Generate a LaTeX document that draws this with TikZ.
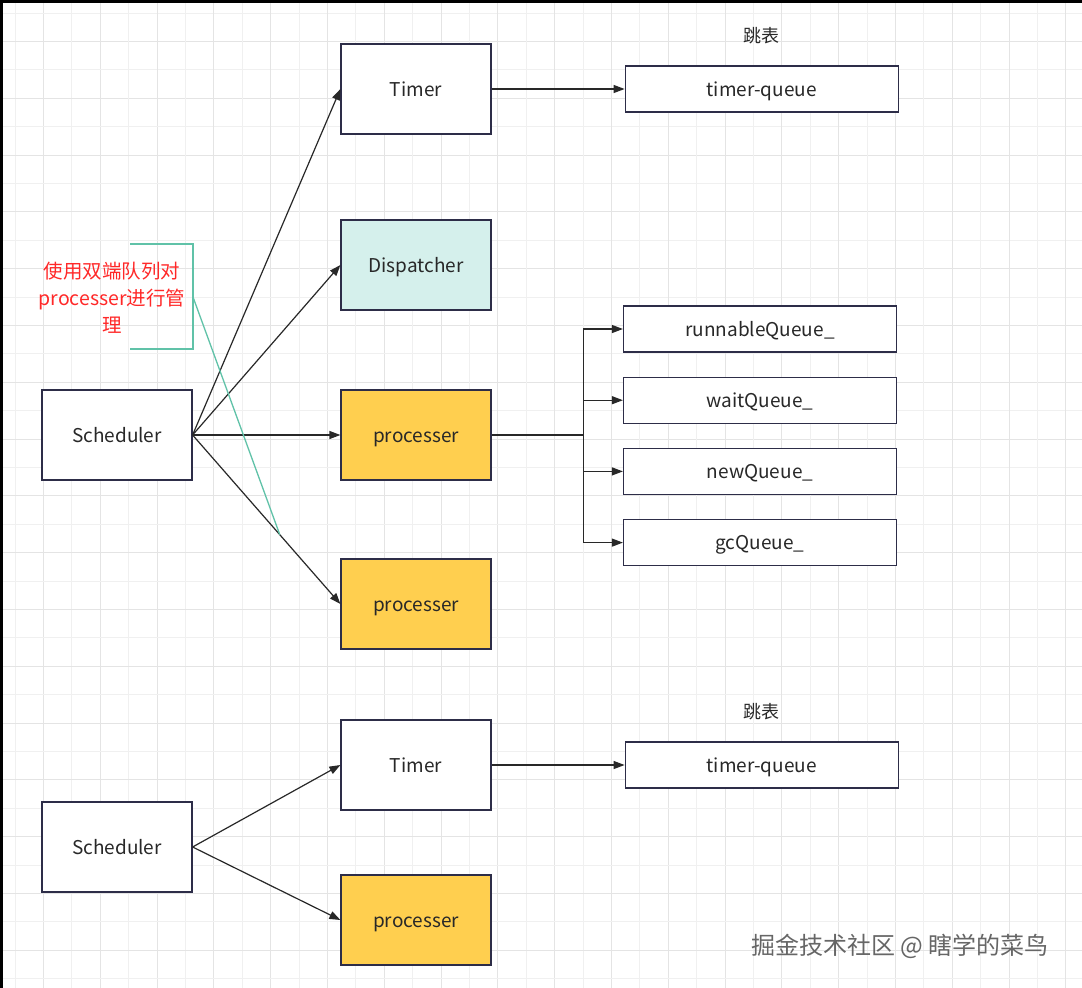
\documentclass[tikz,border=0pt]{standalone}
\usepackage{fontspec}
\setmainfont{Noto Sans CJK SC}
\usetikzlibrary{arrows.meta,positioning,calc}
\definecolor{inkline}{RGB}{45,45,72}
\definecolor{darktext}{RGB}{40,40,40}
\definecolor{procfill}{RGB}{255,207,79}
\definecolor{dispfill}{RGB}{213,240,236}
\definecolor{teal}{RGB}{96,194,168}
\definecolor{notered}{RGB}{255,40,40}
\definecolor{gridlight}{RGB}{240,240,240}
\definecolor{griddark}{RGB}{228,228,228}

\begin{document}
\begin{tikzpicture}[
  x=1pt, y=-1pt,
  box/.style={
    draw=inkline,
    line width=1.2pt,
    fill=white,
    minimum width=150pt,
    minimum height=90pt,
    text=darktext,
    text height=14pt,
    text depth=0pt,
    font=\fontsize{19}{22}\selectfont
  },
  qbox/.style={
    box,
    minimum width=273pt,
    minimum height=46pt
  },
  link/.style={
    draw=darktext,
    line width=1.2pt,
    -{Triangle[length=11pt,width=8pt]}
  },
  tag/.style={
    text=darktext,
    font=\fontsize{18}{22}\selectfont
  }
]
\useasboundingbox (0,0) rectangle (1082,988);
\fill[white] (0,0) rectangle (1082,988);
% grid
\foreach \i in {0,...,18} {
  \draw[gridlight,line width=1pt] ({15+56.8*\i},0) -- ({15+56.8*\i},988);
  \draw[griddark,line width=1pt] ({43.4+56.8*\i},0) -- ({43.4+56.8*\i},988);
  \draw[gridlight,line width=1pt] (0,{13+56.8*\i}) -- (1082,{13+56.8*\i});
  \draw[griddark,line width=1pt] (0,{41.4+56.8*\i}) -- (1082,{41.4+56.8*\i});
}
\fill[black] (0,0) rectangle (2.5,988);
\fill[black] (0,0) rectangle (1082,2.5);

% upper scheduler
\node[box] (sch) at (117,435) {Scheduler};
\node[box] (timer) at (416,89) {Timer};
\node[box,fill=dispfill] (disp) at (416,265) {Dispatcher};
\node[box,fill=procfill] (proc) at (416,435) {processer};
\node[box,fill=procfill] (procb) at (416,604) {processer};

\node[qbox,right=133pt of timer] (tq) {timer-queue};
\node[tag,above=18pt of tq] (skip) {跳表};

\node[qbox] (runq) at (760,329) {runnableQueue\_};
\node[qbox,below=24pt of runq] (waitq) {waitQueue\_};
\node[qbox,below=24pt of waitq] (newq) {newQueue\_};
\node[qbox,below=24pt of newq] (gcq) {gcQueue\_};

\draw[link] (sch.east) -- (timer.west);
\draw[link] (sch.east) -- (disp.west);
\draw[link] (sch.east) -- (proc.west);
\draw[link] (sch.east) -- (procb.west);
\draw[link] (timer.east) -- (tq.west);

\coordinate (fork) at ($(proc.east)+(92,0)$);
\draw[draw=darktext,line width=1.2pt] (proc.east) -- (fork);
\foreach \q in {runq,waitq,newq,gcq}
  \draw[link] (fork) |- (\q.west);

% note on the deque
\node[text=notered,align=center,font=\fontsize{19.5}{27}\selectfont] (note) at (112,298) {使用双端队列对\\processer进行管\\理};
\coordinate (brk) at (193,297);
\coordinate (hit) at ($(sch.east)!0.59!(procb.west)$);
\draw[teal,line width=1.3pt] (130,244) -- (193,244) -- (193,349) -- (130,349);
\draw[teal,line width=1.3pt] (brk) -- (hit);

% lower scheduler
\node[box] (schb) at (117,847) {Scheduler};
\node[box] (timerb) at (416,765) {Timer};
\node[box,fill=procfill] (procc) at (416,920) {processer};
\node[qbox,right=133pt of timerb] (tqb) {timer-queue};
\node[tag,above=18pt of tqb] (skipb) {跳表};

\draw[link] (schb.east) -- (timerb.west);
\draw[link] (schb.east) -- (procc.west);
\draw[link] (timerb.east) -- (tqb.west);

\node[text=black!60,font=\fontsize{24}{28}\selectfont] (mark) at (900,946) {掘金技术社区 @ 瞎学的菜鸟};
\end{tikzpicture}
\end{document}
